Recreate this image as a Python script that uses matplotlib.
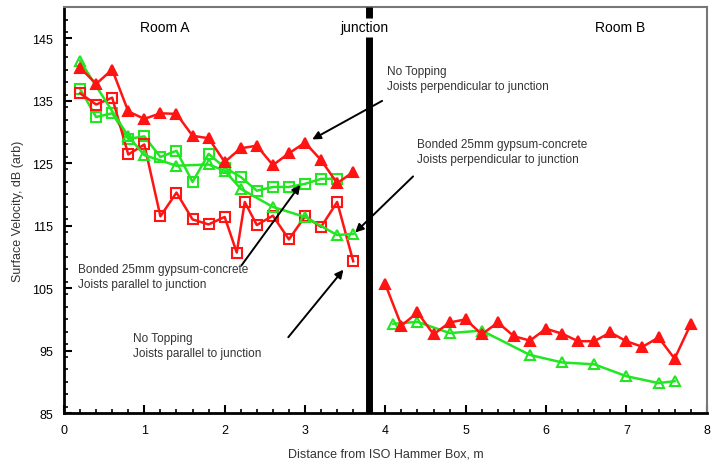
"""Surface velocity vs distance from ISO hammer box, rooms A and B."""
import matplotlib
matplotlib.use("Agg")
import matplotlib.pyplot as plt
from matplotlib.ticker import MultipleLocator

plt.rcParams["font.family"] = ["Liberation Sans", "DejaVu Sans"]

RED = "#ff1414"
GREEN = "#22e622"

# No topping, joists perpendicular to junction (filled red triangles)
nt_perp_x_a = [0.2, 0.4, 0.6, 0.8, 1.0, 1.2, 1.4, 1.6, 1.8, 2.0, 2.2, 2.4, 2.6, 2.8, 3.0, 3.2, 3.4, 3.6]
nt_perp_y_a = [140.3, 137.7, 140.0, 133.3, 132.1, 133.0, 132.9, 129.4, 129.0, 125.2,
               127.4, 127.8, 124.7, 126.6, 128.3, 125.5, 121.8, 123.6]
nt_perp_x_b = [4.0, 4.2, 4.4, 4.6, 4.8, 5.0, 5.2, 5.4, 5.6, 5.8,
               6.0, 6.2, 6.4, 6.6, 6.8, 7.0, 7.2, 7.4, 7.6, 7.8]
nt_perp_y_b = [105.6, 99.0, 101.1, 97.6, 99.5, 100.0, 97.6, 99.5, 97.3, 96.6,
               98.5, 97.7, 96.5, 96.5, 97.9, 96.5, 95.6, 97.1, 93.7, 99.2]

# Bonded 25mm gypsum-concrete, joists perpendicular (open green triangles)
bd_perp_x_a = [0.2, 0.8, 1.0, 1.4, 1.8, 2.0, 2.2, 2.6, 3.0, 3.4, 3.6]
bd_perp_y_a = [141.4, 129.3, 126.3, 124.6, 124.8, 123.8, 120.9, 118.0, 116.4, 113.5, 113.7]
bd_perp_x_b = [4.1, 4.4, 4.8, 5.2, 5.8, 6.2, 6.6, 7.0, 7.4, 7.6]
bd_perp_y_b = [99.3, 99.6, 97.8, 98.2, 94.3, 93.1, 92.8, 90.9, 89.8, 90.1]

# Bonded 25mm gypsum-concrete, joists parallel (open green squares)
bd_par_x = [0.2, 0.4, 0.6, 0.8, 1.0, 1.2, 1.4, 1.6, 1.8, 2.0, 2.2, 2.4, 2.6, 2.8, 3.0, 3.2, 3.4]
bd_par_y = [136.9, 132.4, 133.0, 128.9, 129.3, 126.0, 127.0, 122.0, 126.5, 124.3,
            122.8, 120.6, 121.2, 121.2, 121.7, 122.5, 122.5]

# No topping, joists parallel (open red squares)
nt_par_x = [0.2, 0.4, 0.6, 0.8, 1.0, 1.2, 1.4, 1.6, 1.8, 2.0, 2.15, 2.25,
            2.4, 2.6, 2.8, 3.0, 3.2, 3.4, 3.6]
nt_par_y = [136.2, 134.4, 135.5, 126.4, 128.0, 116.5, 120.3, 116.0, 115.2, 116.4, 110.7, 118.8,
            115.1, 116.6, 112.8, 116.5, 114.8, 118.8, 109.3]

junction_x = 3.8

fig = plt.figure(figsize=(7.11, 4.77), dpi=100)
ax = fig.add_axes([0.09, 0.132, 0.904, 0.851])

line_kw = dict(linewidth=1.8, markersize=7, markeredgewidth=1.5)
ax.plot(bd_par_x, bd_par_y, color=GREEN, marker="s", markerfacecolor="none", **line_kw)
ax.plot(nt_par_x, nt_par_y, color=RED, marker="s", markerfacecolor="none", **line_kw)
ax.plot(bd_perp_x_a, bd_perp_y_a, color=GREEN, marker="^", markerfacecolor="none", **line_kw)
ax.plot(bd_perp_x_b, bd_perp_y_b, color=GREEN, marker="^", markerfacecolor="none", **line_kw)
ax.plot(nt_perp_x_a, nt_perp_y_a, color=RED, marker="^", markerfacecolor=RED, **line_kw)
ax.plot(nt_perp_x_b, nt_perp_y_b, color=RED, marker="^", markerfacecolor=RED, **line_kw)

# junction wall, broken where its label sits
ax.vlines(junction_x, 85, 145.2, color="black", linewidth=5, zorder=3)
ax.vlines(junction_x, 148.2, 150, color="black", linewidth=5, zorder=3)

ax.set_xlim(0, 8)
ax.set_ylim(85, 150)
ax.set_xticks(range(0, 9))
ax.set_yticks(range(85, 146, 10))
ax.xaxis.set_minor_locator(MultipleLocator(0.2))
ax.yaxis.set_minor_locator(MultipleLocator(2))
ax.tick_params(which="both", direction="in", labelsize=9, colors="black")
ax.tick_params(which="major", length=6, width=1.5, pad=8)
ax.tick_params(which="minor", length=3, width=1.2)
for side in ("left", "bottom"):
    ax.spines[side].set_linewidth(2)
for side in ("top", "right"):
    ax.spines[side].set_color("#777777")
    ax.spines[side].set_linewidth(1.5)

ax.set_xlabel("Distance from ISO Hammer Box, m", fontsize=9, color="#333333", labelpad=8)
ax.set_ylabel("Surface Velocity, dB (arb)", fontsize=9, color="#333333", labelpad=6)

ax.text(1.26, 146.8, "Room A", ha="center", va="center", fontsize=10)
ax.text(3.74, 146.8, "junction", ha="center", va="center", fontsize=10, zorder=4)
ax.text(6.92, 146.8, "Room B", ha="center", va="center", fontsize=10)

arrow = dict(arrowstyle="-|>", color="black", linewidth=1.4, mutation_scale=12)
note_kw = dict(fontsize=8.5, color="#333333", ha="left", va="top", linespacing=1.35)

ax.annotate("", xy=(3.06, 128.6), xytext=(3.99, 135.2), arrowprops=arrow)
ax.text(4.02, 140.8, "No Topping\nJoists perpendicular to junction", **note_kw)

ax.annotate("", xy=(3.60, 113.6), xytext=(4.37, 123.2), arrowprops=arrow)
ax.text(4.39, 129.0, "Bonded 25mm gypsum-concrete\nJoists perpendicular to junction", **note_kw)

ax.annotate("", xy=(2.96, 121.9), xytext=(2.19, 108.3), arrowprops=arrow)
ax.text(0.17, 109.1, "Bonded 25mm gypsum-concrete\nJoists parallel to junction", **note_kw)

ax.annotate("", xy=(3.50, 108.3), xytext=(2.77, 96.8), arrowprops=arrow)
ax.text(0.86, 98.0, "No Topping\nJoists parallel to junction", **note_kw)

fig.savefig("out.png", dpi=100)
